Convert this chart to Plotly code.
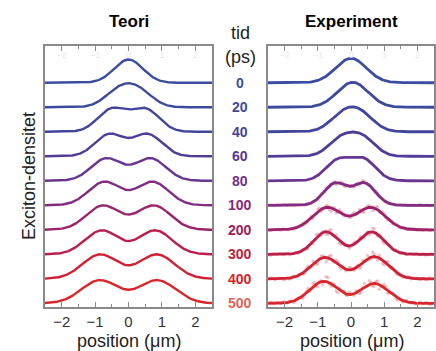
import numpy as np
import plotly.graph_objects as go

# Time steps (ps) and their colours
times = ["0", "20", "40", "60", "80", "100", "200", "300", "400", "500"]
line_colors = ["#3a4da0", "#3c4a9e", "#41459b", "#513d97", "#6a3590",
               "#822c84", "#9d226c", "#ba1f4c", "#d02234", "#d9262a"]
label_colors = ["#3c4fa0", "#4049a0", "#47419b", "#593595", "#70308d",
                "#872879", "#a11861", "#c11c3d", "#d51e28", "#e0645c"]

# Theory: symmetric pair of Gaussian lobes per time step
theory_sep = [0.0, 0.30, 0.50, 0.57, 0.66, 0.72, 0.76, 0.80, 0.85, 0.86]
theory_sigma = [0.43, 0.42, 0.42, 0.43, 0.46, 0.48, 0.50, 0.50, 0.53, 0.55]
theory_height = [0.95, 0.98, 0.99, 0.93, 0.93, 0.97, 1.0, 0.98, 1.0, 0.95]

# Experiment: left/right lobe positions, widths, relative weights, peak height
exp_left = [0.0, -0.12, -0.25, -0.30, -0.40, -0.48, -0.72, -0.75, -0.78, -0.82]
exp_right = [0.0, 0.22, 0.30, 0.35, 0.38, 0.40, 0.60, 0.62, 0.70, 0.70]
exp_sigma = [0.46, 0.43, 0.40, 0.38, 0.37, 0.34, 0.43, 0.373, 0.416, 0.43]
exp_wl = [1.0, 1.0, 0.95, 0.95, 0.95, 1.0, 1.0, 1.0, 0.96, 1.0]
exp_wr = [1.0, 1.0, 1.0, 1.0, 1.0, 1.0, 1.0, 1.0, 1.0, 0.9]
exp_height = [1.0, 1.02, 1.02, 0.99, 0.98, 0.93, 0.92, 0.92, 0.91, 0.90]

# Measurement scatter: spread per time step and residual pattern
noise_amp = [0.0, 0.0, 0.0, 0.0, 0.0, 0.07, 0.13, 0.15, 0.18, 0.20]
residuals = [0.3, -0.8, 0.5, 0.1, -0.4, 0.9, -0.2, 0.6, -0.7, 0.2, -0.1,
             0.8, -0.5, 0.4, -0.9, 0.1, 0.7, -0.3, 0.5, -0.6, 0.2, -0.8,
             0.9, -0.1, 0.3, -0.5, 0.6, -0.2, 0.8, -0.7, 0.1, 0.4, -0.9,
             0.5, -0.3, 0.7, -0.4, 0.2, -0.6, 0.9, -0.2]

tick_vals = [-2, -1, 0, 1, 2]
tick_text = ["\u22122", "\u22121", "0", "1", "2"]

x = np.linspace(-2.5, 2.5, 401)


def lobes(xx, c1, c2, s, w1=1.0, w2=1.0):
    return w1 * np.exp(-(xx - c1) ** 2 / (2 * s ** 2)) + w2 * np.exp(-(xx - c2) ** 2 / (2 * s ** 2))


fig = go.Figure()
n = len(times)
for i in range(n):
    base = n - 1 - i
    # theory curve
    d = theory_sep[i]
    yt = lobes(x, -d, d, theory_sigma[i])
    yt = yt / yt.max() * theory_height[i]
    fig.add_trace(go.Scatter(x=x, y=yt + base, mode="lines",
                             line=dict(color=line_colors[i], width=2.4),
                             xaxis="x", yaxis="y", showlegend=False, hoverinfo="skip"))

    # experiment fit and data points
    shape_e = lambda xx: lobes(xx, exp_left[i], exp_right[i], exp_sigma[i], exp_wl[i], exp_wr[i])
    norm = shape_e(x).max()
    ye = shape_e(x) / norm * exp_height[i]
    if noise_amp[i] > 0:
        xs = []
        ys = []
        for k, off in enumerate([0.0, 0.05]):
            xp = np.round(np.arange(-2.45 + off, 2.45, 0.1), 3)
            yp = shape_e(xp) / norm * exp_height[i]
            m = len(xp)
            r = np.array([residuals[(j + 7 * i + 13 * k) % len(residuals)] for j in range(m)])
            xs.extend(xp.tolist())
            ys.extend((yp + base + noise_amp[i] * (0.25 + yp) * r).tolist())
        fig.add_trace(go.Scatter(x=xs, y=ys, mode="markers",
                                 marker=dict(color="rgba(230,105,115,0.42)", size=3.2),
                                 xaxis="x2", yaxis="y2", showlegend=False, hoverinfo="skip"))
    fig.add_trace(go.Scatter(x=x, y=ye + base, mode="lines",
                             line=dict(color=line_colors[i], width=2.8),
                             xaxis="x2", yaxis="y2", showlegend=False, hoverinfo="skip"))

W, H = 436, 351
dom_left = [45 / W, 212 / W]
dom_right = [268 / W, 434 / W]
dom_y = [(H - 307) / H, (H - 46) / H]
axis_col = "#8a8a8a"
font_main = "Liberation Sans, Arial, sans-serif"

xbase = dict(range=[-2.5, 2.5], showline=True, linecolor=axis_col, linewidth=1.5,
             mirror=True, ticks="inside", ticklen=5, tickcolor=axis_col, tickwidth=1,
             tickvals=tick_vals, ticktext=tick_text, showgrid=False, zeroline=False,
             tickfont=dict(family=font_main, size=15, color="#333333"),
             minor=dict(ticks="inside", ticklen=3, dtick=0.5, tick0=0, tickcolor=axis_col, showgrid=False))
xtop = dict(range=[-2.5, 2.5], side="top", ticks="inside", ticklen=5, tickcolor=axis_col,
            tickvals=tick_vals, ticktext=tick_text, ticklabelposition="inside",
            showgrid=False, zeroline=False, showline=False,
            tickfont=dict(family=font_main, size=9, color="#e8e8e8"),
            minor=dict(ticks="inside", ticklen=3, dtick=0.5, tick0=0, tickcolor=axis_col, showgrid=False))
ybase = dict(range=[-0.15, 10.5], showline=True, linecolor=axis_col, linewidth=1.5,
             mirror=True, ticks="", showticklabels=False, showgrid=False, zeroline=False)

fig.update_layout(
    width=W, height=H, margin=dict(l=0, r=0, t=0, b=0),
    paper_bgcolor="white", plot_bgcolor="white",
    xaxis=dict(domain=dom_left, anchor="y", **xbase),
    xaxis2=dict(domain=dom_right, anchor="y2", **xbase),
    xaxis3=dict(domain=dom_left, anchor="y", overlaying="x", **xtop),
    xaxis4=dict(domain=dom_right, anchor="y2", overlaying="x2", **xtop),
    yaxis=dict(domain=dom_y, anchor="x", **ybase),
    yaxis2=dict(domain=dom_y, anchor="x2", **ybase),
)
# keep the top overlay axes visible
fig.add_trace(go.Scatter(x=[None], y=[None], xaxis="x3", yaxis="y", showlegend=False))
fig.add_trace(go.Scatter(x=[None], y=[None], xaxis="x4", yaxis="y2", showlegend=False))


def label(text, px, py, size, color, yref="paper", angle=0):
    yy = 1 - py / H if yref == "paper" else py
    return dict(text=text, x=px / W, y=yy, xref="paper", yref=yref, xanchor="center",
                yanchor="middle", textangle=angle, showarrow=False,
                font=dict(family=font_main, size=size, color=color))


ann = [
    label("<b>Teori</b>", 128.5, 22, 17, "black"),
    label("<b>Experiment</b>", 351, 22, 17, "black"),
    label("tid", 240, 33, 18, "#222222"),
    label("(ps)", 240, 57, 18, "#222222"),
    label("Exciton-densitet", 29, 176, 18, "#222222", angle=-90),
    label("position (\u03bcm)", 128.5, 341, 18, "#222222"),
    label("position (\u03bcm)", 351.5, 341, 18, "#222222"),
]
for i, t in enumerate(times):
    ann.append(label("<b>%s</b>" % t, 240, n - 1 - i, 14, label_colors[i], yref="y"))
fig.update_layout(annotations=ann)

fig.write_html("out.html")
